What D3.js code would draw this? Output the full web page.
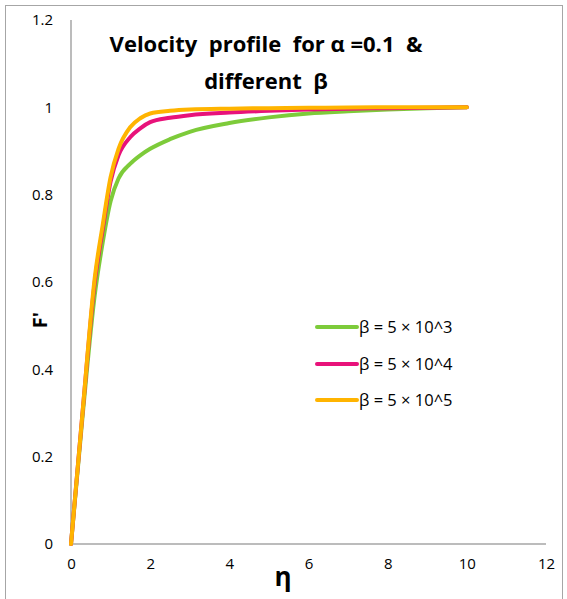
<!DOCTYPE html>
<html><head><meta charset="utf-8">
<script src="https://cdn.jsdelivr.net/npm/d3@7"></script>
<style>body{margin:0;background:#fff;}svg{display:block;font-family:"Open Sans","Liberation Sans",sans-serif;}</style>
</head><body>
<svg id="chart" width="567" height="599"></svg>
<script>
const eta = [0, 0.3, 0.6, 0.8, 1.0, 1.2, 1.5, 1.75, 2.0, 2.5, 3, 4, 5, 6, 7, 8, 9, 10];
const fBeta3 = [0, 0.30, 0.57, 0.69, 0.785, 0.837, 0.871, 0.89, 0.905, 0.927, 0.944, 0.964, 0.977, 0.986, 0.991, 0.995, 0.998, 1.0];
const fBeta4 = [0, 0.31, 0.60, 0.72, 0.83, 0.89, 0.932, 0.952, 0.966, 0.976, 0.982, 0.988, 0.992, 0.995, 0.997, 0.998, 0.999, 1.0];
const fBeta5 = [0, 0.31, 0.61, 0.73, 0.84, 0.905, 0.955, 0.975, 0.986, 0.992, 0.995, 0.997, 0.998, 0.999, 0.9995, 1.0, 1.0, 1.0];
const seriesNames = ["β = 5 × 10^3", "β = 5 × 10^4", "β = 5 × 10^5"];
const seriesColors = ["#7DCB3A", "#E8127A", "#FFB400"];
const xTicks = [0, 2, 4, 6, 8, 10, 12];
const yTicks = [0, 0.2, 0.4, 0.6, 0.8, 1, 1.2];

const svg = d3.select("#chart");
svg.append("rect").attr("x",5.5).attr("y",5.5).attr("width",557).attr("height",600)
  .attr("fill","#fff").attr("stroke","#A6A6A6").attr("stroke-width",1);

const x = d3.scaleLinear().domain([0,12]).range([71,546]);
const y = d3.scaleLinear().domain([0,1.2]).range([544,20]);

svg.append("line").attr("x1",x(0)).attr("x2",x(0)).attr("y1",y(1.2)).attr("y2",y(0))
  .attr("stroke","#A6A6A6").attr("stroke-width",1.5);
svg.append("line").attr("x1",x(0)).attr("x2",x(12)).attr("y1",y(0)).attr("y2",y(0))
  .attr("stroke","#A6A6A6").attr("stroke-width",1.5);

const xAxis = d3.axisBottom(x).tickValues(xTicks).tickSize(0).tickPadding(14).tickFormat(d3.format("d"));
const gx = svg.append("g").attr("transform",`translate(0,${y(0)})`).call(xAxis);
gx.select(".domain").remove();
gx.selectAll("text").attr("font-size",15).attr("fill","#000").attr("font-family","Open Sans, Liberation Sans, sans-serif");

const yAxis = d3.axisLeft(y).tickValues(yTicks).tickSize(0).tickPadding(18).tickFormat(d => d3.format("")(+d.toFixed(1)));
const gy = svg.append("g").attr("transform",`translate(${x(0)},0)`).call(yAxis);
gy.select(".domain").remove();
gy.selectAll("text").attr("font-size",15).attr("fill","#000").attr("font-family","Open Sans, Liberation Sans, sans-serif");

const allSeries = [fBeta3, fBeta4, fBeta5];
const line = d3.line().x((d,i)=>x(eta[i])).y(d=>y(d)).curve(d3.curveMonotoneX);
allSeries.forEach((s,k)=>{
  svg.append("path").datum(s).attr("d",line).attr("fill","none")
    .attr("stroke",seriesColors[k]).attr("stroke-width",4).attr("stroke-linecap","round").attr("stroke-linejoin","round");
});

const title = svg.append("text").attr("text-anchor","middle").attr("font-weight","bold")
  .attr("font-size",22).attr("fill","#000").style("white-space","pre")
  .attr("font-family","Open Sans, Liberation Sans, sans-serif");
title.append("tspan").attr("x",266).attr("y",52).text("Velocity  profile  for α =0.1  &");
title.append("tspan").attr("x",266).attr("y",89).text("different  β");

svg.append("text").attr("x",283).attr("y",586).attr("text-anchor","middle").attr("font-weight","bold")
  .attr("font-size",26).attr("fill","#000").text("η");
svg.append("text").attr("transform","translate(47,320) rotate(-90)").attr("text-anchor","middle")
  .attr("font-weight","bold").attr("font-size",20).attr("fill","#000").text("F'");

const legY = [327, 364, 400];
seriesNames.forEach((n,k)=>{
  svg.append("line").attr("x1",317).attr("x2",357).attr("y1",legY[k]).attr("y2",legY[k])
    .attr("stroke",seriesColors[k]).attr("stroke-width",4).attr("stroke-linecap","round");
  svg.append("text").attr("x",359).attr("y",legY[k]+6).attr("font-size",16.5).attr("fill","#000").text(n);
});
</script>
</body></html>
